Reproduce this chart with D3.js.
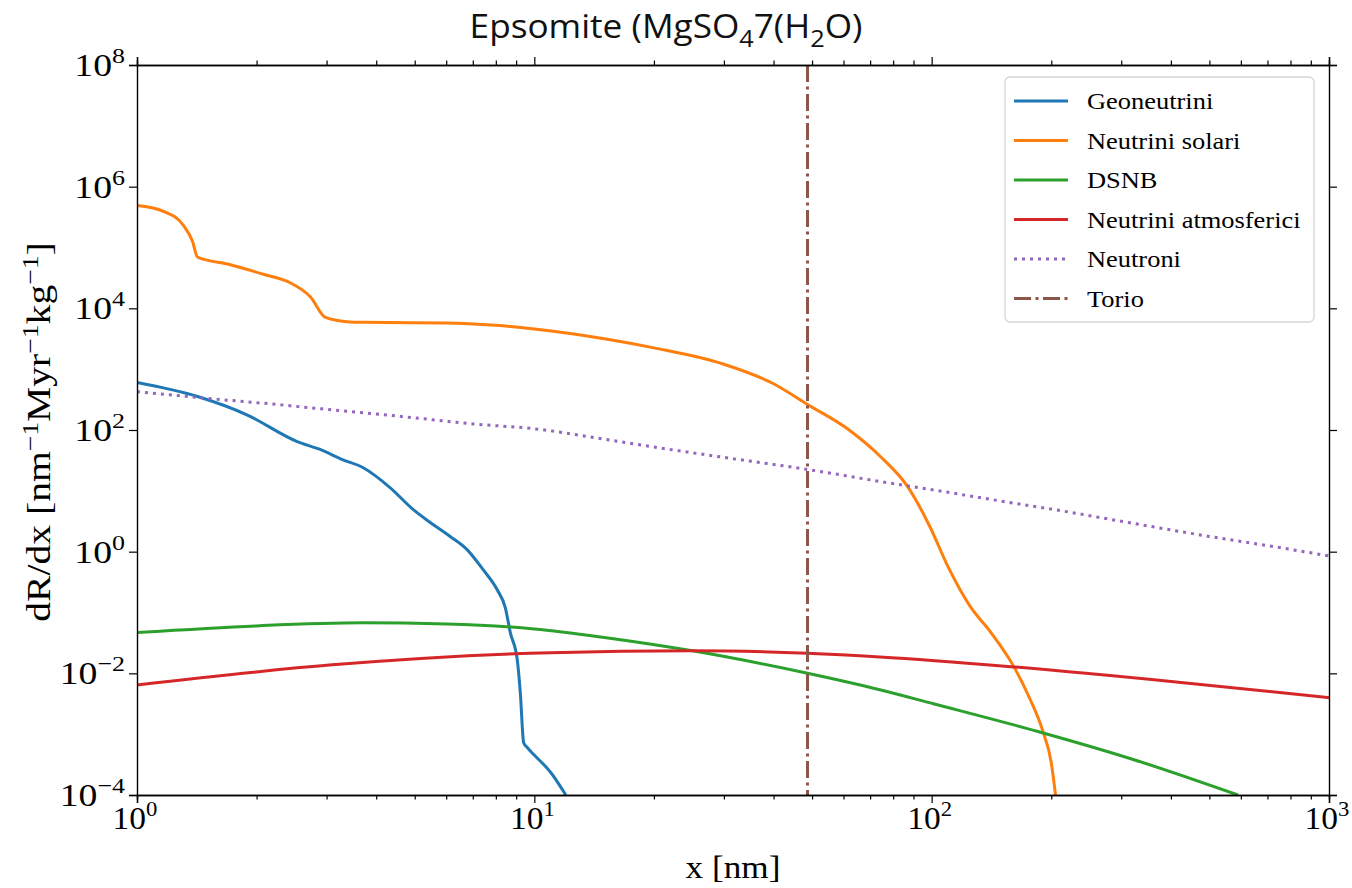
<!DOCTYPE html>
<html><head><meta charset="utf-8">
<script src="https://cdn.jsdelivr.net/npm/d3@7"></script>
<style>body{margin:0;background:#fff}</style>
</head><body>
<svg id="c" width="1352" height="888"></svg>
<script>
// ---- data (log10 of dR/dx) ----
const geoX   = [1, 1.42, 1.89, 2.53, 2.89, 3.3, 3.71, 4.34, 4.96, 5.47, 6.14, 6.78, 7.44, 8.07, 8.45, 8.7, 9.06, 9.22, 9.4, 9.6, 9.95, 11, 12];
const geoLogY= [2.78, 2.55, 2.25, 1.81, 1.68, 1.51, 1.38, 1.05, 0.69, 0.48, 0.25, 0.03, -0.3, -0.63, -0.92, -1.33, -1.78, -2.32, -3.14, -3.22, -3.33, -3.63, -4];
const solX   = [1, 1.16, 1.31, 1.38, 1.42, 1.71, 2.08, 2.43, 2.73, 2.98, 3.38, 3.71, 6, 8, 10, 15, 20, 30, 40, 48.7, 62, 74.4, 87, 99, 110, 125, 141, 161, 177, 190, 200, 205];
const solLogY= [5.69, 5.6, 5.36, 5.1, 4.84, 4.72, 4.56, 4.42, 4.19, 3.85, 3.78, 3.77, 3.76, 3.72, 3.66, 3.5, 3.35, 3.08, 2.76, 2.42, 2.0, 1.56, 1.07, 0.41, -0.25, -0.9, -1.33, -1.89, -2.43, -2.93, -3.47, -4];
const dsnbX  = [1, 2, 3.7, 6, 10, 15, 25, 48.7, 74, 101, 186, 323, 590];
const dsnbLogY=[-1.33, -1.22, -1.17, -1.19, -1.27, -1.41, -1.63, -2.0, -2.27, -2.5, -2.96, -3.42, -4];
const atmX   = [1, 3.1, 11, 25, 48.7, 74, 158, 424, 1000];
const atmLogY= [-2.19, -1.86, -1.66, -1.63, -1.67, -1.73, -1.89, -2.15, -2.4];
const neuX   = [1, 1.5, 2, 3, 5, 7, 10, 15, 20, 30, 50, 70, 100, 150, 200, 300, 500, 700, 1000];
const neuLogY= [2.63, 2.52, 2.45, 2.34, 2.2, 2.1, 2.02, 1.85, 1.72, 1.55, 1.34, 1.18, 1.02, 0.83, 0.7, 0.5, 0.25, 0.1, -0.07];
const torioX = 48.7;
const seriesNames = ["Geoneutrini", "Neutrini solari", "DSNB", "Neutrini atmosferici", "Neutroni", "Torio"];
const colors = ["#1f77b4", "#ff7f0e", "#2ca02c", "#d62728", "#9467bd", "#8c564b"];
const xTickExp = [0, 1, 2, 3];
const yTickExp = [-4, -2, 0, 2, 4, 6, 8];

// ---- layout ----
const L = 137, R = 1329, T = 65, B = 795;
const svg = d3.select("#c");
const x = d3.scaleLog().domain([1, 1000]).range([L, R]);
const y = d3.scaleLog().domain([1e-4, 1e8]).range([B, T]);
const serif = "'Liberation Serif', 'DejaVu Serif', serif";
const LW = 3;
const DOT = "3,5", DASHDOT = "17,4.5,3,4.5";

svg.append("defs").append("clipPath").attr("id", "clip")
  .append("rect").attr("x", L).attr("y", T).attr("width", R - L).attr("height", B - T);

const smooth = d3.line().x(d => x(d[0])).y(d => y(Math.pow(10, d[1]))).curve(d3.curveMonotoneX);
const g = svg.append("g").attr("clip-path", "url(#clip)");
const series = [[geoX, geoLogY], [solX, solLogY], [dsnbX, dsnbLogY], [atmX, atmLogY], [neuX, neuLogY]];
series.forEach((s, i) => {
  const pts = s[0].map((v, k) => [v, s[1][k]]);
  g.append("path").attr("d", smooth(pts)).attr("fill", "none")
    .attr("stroke", colors[i]).attr("stroke-width", LW).attr("stroke-linejoin", "round")
    .attr("stroke-dasharray", i === 4 ? DOT : null);
});
g.append("line").attr("x1", x(torioX)).attr("x2", x(torioX)).attr("y1", T).attr("y2", B)
  .attr("stroke", colors[5]).attr("stroke-width", LW).attr("stroke-dasharray", DASHDOT);

// ---- axes ----
const minorVals = [];
for (let d = 0; d < 3; d++) for (let m = 2; m <= 9; m++) minorVals.push(m * Math.pow(10, d));
const xMaj = xTickExp.map(e => Math.pow(10, e));
const yMaj = yTickExp.map(e => Math.pow(10, e));

function drawAxis(axis, tr) {
  const a = svg.append("g").attr("transform", tr).call(axis);
  a.select(".domain").attr("stroke", "#000").attr("stroke-width", 1.4);
  a.selectAll(".tick line").attr("stroke", "#000").attr("stroke-width", 1.2);
  a.selectAll(".tick text").remove();
  return a;
}
drawAxis(d3.axisBottom(x).tickValues(xMaj).tickSizeOuter(0).tickSize(8), `translate(0,${B})`);
drawAxis(d3.axisBottom(x).tickValues(minorVals).tickSizeOuter(0).tickSize(4.5), `translate(0,${B})`);
drawAxis(d3.axisTop(x).tickValues(xMaj).tickSizeOuter(0).tickSize(8), `translate(0,${T})`);
drawAxis(d3.axisTop(x).tickValues(minorVals).tickSizeOuter(0).tickSize(4.5), `translate(0,${T})`);
drawAxis(d3.axisLeft(y).tickValues(yMaj).tickSizeOuter(0).tickSize(8), `translate(${L},0)`);
drawAxis(d3.axisRight(y).tickValues(yMaj).tickSizeOuter(0).tickSize(8), `translate(${R},0)`);

// stretched text helper (reference glyphs are wider than Liberation Serif)
function stext(px, py, sx, rot) {
  return svg.append("text")
    .attr("transform", `translate(${px},${py})` + (rot ? ` rotate(${rot})` : "") + ` scale(${sx},1)`)
    .attr("font-family", serif).attr("fill", "#000");
}

// tick labels
xTickExp.forEach(e => {
  const t = stext(x(Math.pow(10, e)) - 2, 829, 1.08).attr("text-anchor", "middle").attr("font-size", 31);
  t.append("tspan").text("10");
  t.append("tspan").attr("dy", -13).attr("font-size", 21).text(String(e));
});
yTickExp.forEach(e => {
  const lab = e < 0 ? "\u2212" + Math.abs(e) : String(e);
  const t = stext(125, y(Math.pow(10, e)) + 11, 1.18).attr("text-anchor", "end").attr("font-size", 32);
  t.append("tspan").text("10");
  t.append("tspan").attr("dy", -13).attr("font-size", 22).text(lab);
});

// axis titles
stext((L + R) / 2, 878, 1.1).attr("text-anchor", "middle").attr("font-size", 32).text("x [nm]");
const yl = stext(50, 432, 1.2, -90).attr("text-anchor", "middle").attr("font-size", 33);
yl.append("tspan").text("dR/dx [nm");
yl.append("tspan").attr("dy", -12).attr("font-size", 23).text("\u22121");
yl.append("tspan").attr("dy", 12).text("Myr");
yl.append("tspan").attr("dy", -12).attr("font-size", 23).text("\u22121");
yl.append("tspan").attr("dy", 12).text("kg");
yl.append("tspan").attr("dy", -12).attr("font-size", 23).text("\u22121");
yl.append("tspan").attr("dy", 12).text("]");

// title
const tt = svg.append("text").attr("transform", "translate(666,38) scale(1.1,1)").attr("text-anchor", "middle")
  .attr("font-family", "'Open Sans', Lato, sans-serif").attr("font-size", 32).attr("fill", "#111");
tt.append("tspan").text("Epsomite (MgSO");
tt.append("tspan").attr("dy", 9).attr("font-size", 23).text("4");
tt.append("tspan").attr("dy", -9).text("7(H");
tt.append("tspan").attr("dy", 9).attr("font-size", 23).text("2");
tt.append("tspan").attr("dy", -9).text("O)");

// legend
const lg = svg.append("g");
lg.append("rect").attr("x", 1005).attr("y", 77).attr("width", 309).attr("height", 245)
  .attr("rx", 5).attr("fill", "#fff").attr("fill-opacity", 0.9).attr("stroke", "#d6d6d6").attr("stroke-width", 1.3);
seriesNames.forEach((n, i) => {
  const yy = 101 + i * 39.5;
  lg.append("line").attr("x1", 1014).attr("x2", 1068).attr("y1", yy).attr("y2", yy)
    .attr("stroke", colors[i]).attr("stroke-width", LW)
    .attr("stroke-dasharray", i === 4 ? DOT : i === 5 ? DASHDOT : null);
  stext(1087, yy + 8, 1.15).attr("font-size", 23).text(n);
});
</script>
</body></html>
